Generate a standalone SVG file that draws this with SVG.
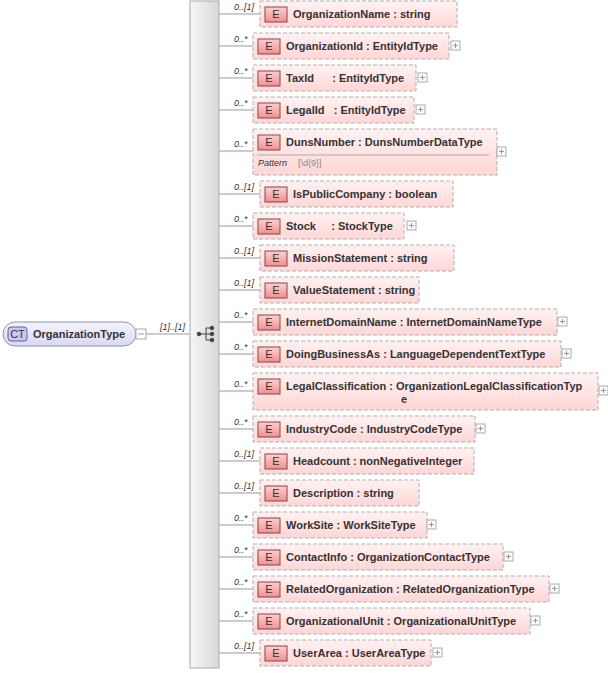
<svg xmlns="http://www.w3.org/2000/svg" width="608" height="673" viewBox="0 0 608 673">
<defs>
<linearGradient id="eg" x1="0" y1="0" x2="0" y2="1"><stop offset="0" stop-color="#fff2f2"/><stop offset="1" stop-color="#ffd6d6"/></linearGradient>
<linearGradient id="bg" x1="0" y1="0" x2="0" y2="1"><stop offset="0" stop-color="#fbd0d0"/><stop offset="1" stop-color="#f09090"/></linearGradient>
<linearGradient id="sg" x1="0" y1="0" x2="1" y2="0"><stop offset="0" stop-color="#f6f6f6"/><stop offset="1" stop-color="#d8d8d8"/></linearGradient>
<linearGradient id="cg" x1="0" y1="0" x2="0" y2="1"><stop offset="0" stop-color="#f4f4ff"/><stop offset="1" stop-color="#d8d8f4"/></linearGradient>
</defs>
<style>
.box{fill:url(#eg);stroke:#b0b0b0;stroke-dasharray:4 2;stroke-width:1}
.badge{fill:url(#bg);stroke:#904040;stroke-width:1}
.bt{font-family:"Liberation Sans",Arial,sans-serif;font-size:11px;fill:#333}
.t{font-family:"Liberation Sans",Arial,sans-serif;font-size:11px;font-weight:bold;fill:#333}
.m{font-family:"Liberation Sans",Arial,sans-serif;font-size:9px;font-style:italic;fill:#333}
.ln{stroke:#999;stroke-width:1;fill:none}
.pl{fill:#fff;stroke:#aaa;stroke-width:1}
.pt{stroke:#999;stroke-width:1}
</style>
<g id="connectors">
<line class="ln" x1="146" y1="334" x2="190" y2="334"/>
<line class="ln" x1="219" y1="14" x2="260" y2="14"/>
<line class="ln" x1="219" y1="46" x2="253" y2="46"/>
<line class="ln" x1="219" y1="78" x2="253" y2="78"/>
<line class="ln" x1="219" y1="110" x2="253" y2="110"/>
<line class="ln" x1="219" y1="151" x2="253" y2="151"/>
<line class="ln" x1="219" y1="194" x2="260" y2="194"/>
<line class="ln" x1="219" y1="226" x2="253" y2="226"/>
<line class="ln" x1="219" y1="258" x2="260" y2="258"/>
<line class="ln" x1="219" y1="290" x2="260" y2="290"/>
<line class="ln" x1="219" y1="322" x2="253" y2="322"/>
<line class="ln" x1="219" y1="354" x2="253" y2="354"/>
<line class="ln" x1="219" y1="391" x2="253" y2="391"/>
<line class="ln" x1="219" y1="429" x2="253" y2="429"/>
<line class="ln" x1="219" y1="461" x2="260" y2="461"/>
<line class="ln" x1="219" y1="493" x2="260" y2="493"/>
<line class="ln" x1="219" y1="525" x2="253" y2="525"/>
<line class="ln" x1="219" y1="557" x2="253" y2="557"/>
<line class="ln" x1="219" y1="589" x2="253" y2="589"/>
<line class="ln" x1="219" y1="621" x2="253" y2="621"/>
<line class="ln" x1="219" y1="653" x2="260" y2="653"/>
<text class="m" x="160" y="330">[1]..[1]</text>
<text class="m" x="234" y="10">0..[1]</text>
<text class="m" x="234" y="42">0..*</text>
<text class="m" x="234" y="74">0..*</text>
<text class="m" x="234" y="106">0..*</text>
<text class="m" x="234" y="147">0..*</text>
<text class="m" x="234" y="190">0..[1]</text>
<text class="m" x="234" y="222">0..*</text>
<text class="m" x="234" y="254">0..[1]</text>
<text class="m" x="234" y="286">0..[1]</text>
<text class="m" x="234" y="318">0..*</text>
<text class="m" x="234" y="350">0..*</text>
<text class="m" x="234" y="387">0..*</text>
<text class="m" x="234" y="425">0..*</text>
<text class="m" x="234" y="457">0..[1]</text>
<text class="m" x="234" y="489">0..[1]</text>
<text class="m" x="234" y="521">0..*</text>
<text class="m" x="234" y="553">0..*</text>
<text class="m" x="234" y="585">0..*</text>
<text class="m" x="234" y="617">0..*</text>
<text class="m" x="234" y="649">0..[1]</text>
</g>
<g id="OrganizationType">
<rect x="3" y="322" width="133" height="24" rx="12" fill="url(#cg)" stroke="#9090b8"/>
<rect x="8" y="327" width="19" height="14" rx="3" fill="#c8c8f0" stroke="#6060a0"/>
<text class="bt" x="17.5" y="338" text-anchor="middle">CT</text>
<text class="t" x="33" y="338">OrganizationType</text>
<rect class="pl" x="136" y="329" width="10" height="10"/>
<line class="pt" x1="138" y1="334" x2="144" y2="334"/>
</g>
<g id="sequence">
<rect x="190" y="1" width="29" height="667" fill="url(#sg)" stroke="#aaa"/>
<g stroke="#444" fill="#444">
<line x1="199" y1="334" x2="206" y2="334"/>
<line x1="206" y1="328" x2="206" y2="340"/>
<line x1="206" y1="328" x2="212" y2="328"/><line x1="206" y1="334" x2="212" y2="334"/><line x1="206" y1="340" x2="212" y2="340"/>
<circle cx="199" cy="334" r="1.8"/><circle cx="212" cy="328" r="1.8"/><circle cx="212" cy="334" r="1.8"/><circle cx="212" cy="340" r="1.8"/>
</g>
</g>
<g id="OrganizationName"><rect class="box" x="260" y="1" width="197" height="26"/><rect class="badge" x="265" y="7" width="22" height="15"/><text class="bt" x="276" y="18" text-anchor="middle">E</text><text class="t" x="293" y="18">OrganizationName : string</text></g>
<g id="OrganizationId"><rect class="box" x="253" y="33" width="196" height="26"/><rect class="badge" x="258" y="39" width="22" height="15"/><text class="bt" x="269" y="50" text-anchor="middle">E</text><text class="t" x="286" y="50">OrganizationId : EntityIdType</text><rect class="pl" x="451" y="41" width="9" height="9"/><line class="pt" x1="453" y1="45.5" x2="458" y2="45.5"/><line class="pt" x1="455.5" y1="43" x2="455.5" y2="48"/></g>
<g id="TaxId"><rect class="box" x="253" y="65" width="163" height="26"/><rect class="badge" x="258" y="71" width="22" height="15"/><text class="bt" x="269" y="82" text-anchor="middle">E</text><text class="t" x="286" y="82" xml:space="preserve">TaxId      : EntityIdType</text><rect class="pl" x="418" y="73" width="9" height="9"/><line class="pt" x1="420" y1="77.5" x2="425" y2="77.5"/><line class="pt" x1="422.5" y1="75" x2="422.5" y2="80"/></g>
<g id="LegalId"><rect class="box" x="253" y="97" width="161" height="26"/><rect class="badge" x="258" y="103" width="22" height="15"/><text class="bt" x="269" y="114" text-anchor="middle">E</text><text class="t" x="286" y="114" xml:space="preserve">LegalId   : EntityIdType</text><rect class="pl" x="416" y="105" width="9" height="9"/><line class="pt" x1="418" y1="109.5" x2="423" y2="109.5"/><line class="pt" x1="420.5" y1="107" x2="420.5" y2="112"/></g>
<g id="DunsNumber"><rect class="box" x="253" y="129" width="244" height="46"/><rect class="badge" x="258" y="135" width="22" height="15"/><text class="bt" x="269" y="146" text-anchor="middle">E</text><text class="t" x="286" y="146">DunsNumber : DunsNumberDataType</text><line x1="257" y1="155" x2="489" y2="155" stroke="#aaa"/><text class="bt" x="258" y="166" font-size="9" font-style="italic" style="font-size:9px">Pattern</text><text class="bt" x="298" y="166" style="font-size:9px;fill:#888">[\d{9}]</text><rect class="pl" x="497" y="147" width="9" height="9"/><line class="pt" x1="499" y1="151.5" x2="504" y2="151.5"/><line class="pt" x1="501.5" y1="149" x2="501.5" y2="154"/></g>
<g id="IsPublicCompany"><rect class="box" x="260" y="181" width="193" height="26"/><rect class="badge" x="265" y="187" width="22" height="15"/><text class="bt" x="276" y="198" text-anchor="middle">E</text><text class="t" x="293" y="198">IsPublicCompany : boolean</text></g>
<g id="Stock"><rect class="box" x="253" y="213" width="151" height="26"/><rect class="badge" x="258" y="219" width="22" height="15"/><text class="bt" x="269" y="230" text-anchor="middle">E</text><text class="t" x="286" y="230" xml:space="preserve">Stock     : StockType</text><rect class="pl" x="407" y="221" width="9" height="9"/><line class="pt" x1="409" y1="225.5" x2="414" y2="225.5"/><line class="pt" x1="411.5" y1="223" x2="411.5" y2="228"/></g>
<g id="MissionStatement"><rect class="box" x="260" y="245" width="194" height="26"/><rect class="badge" x="265" y="251" width="22" height="15"/><text class="bt" x="276" y="262" text-anchor="middle">E</text><text class="t" x="293" y="262">MissionStatement : string</text></g>
<g id="ValueStatement"><rect class="box" x="260" y="277" width="159" height="26"/><rect class="badge" x="265" y="283" width="22" height="15"/><text class="bt" x="276" y="294" text-anchor="middle">E</text><text class="t" x="293" y="294">ValueStatement : string</text></g>
<g id="InternetDomainName"><rect class="box" x="253" y="309" width="304" height="26"/><rect class="badge" x="258" y="315" width="22" height="15"/><text class="bt" x="269" y="326" text-anchor="middle">E</text><text class="t" x="286" y="326">InternetDomainName : InternetDomainNameType</text><rect class="pl" x="558" y="317" width="9" height="9"/><line class="pt" x1="560" y1="321.5" x2="565" y2="321.5"/><line class="pt" x1="562.5" y1="319" x2="562.5" y2="324"/></g>
<g id="DoingBusinessAs"><rect class="box" x="253" y="341" width="308" height="26"/><rect class="badge" x="258" y="347" width="22" height="15"/><text class="bt" x="269" y="358" text-anchor="middle">E</text><text class="t" x="286" y="358">DoingBusinessAs : LanguageDependentTextType</text><rect class="pl" x="562" y="349" width="9" height="9"/><line class="pt" x1="564" y1="353.5" x2="569" y2="353.5"/><line class="pt" x1="566.5" y1="351" x2="566.5" y2="356"/></g>
<g id="LegalClassification"><rect class="box" x="253" y="373" width="345" height="37"/><rect class="badge" x="258" y="379" width="22" height="15"/><text class="bt" x="269" y="390" text-anchor="middle">E</text><text class="t" x="286" y="390">LegalClassification : OrganizationLegalClassificationTyp</text><text class="t" x="401" y="403">e</text><rect class="pl" x="599" y="386" width="9" height="9"/><line class="pt" x1="601" y1="390.5" x2="606" y2="390.5"/><line class="pt" x1="603.5" y1="388" x2="603.5" y2="393"/></g>
<g id="IndustryCode"><rect class="box" x="253" y="416" width="222" height="26"/><rect class="badge" x="258" y="422" width="22" height="15"/><text class="bt" x="269" y="433" text-anchor="middle">E</text><text class="t" x="286" y="433">IndustryCode : IndustryCodeType</text><rect class="pl" x="476" y="424" width="9" height="9"/><line class="pt" x1="478" y1="428.5" x2="483" y2="428.5"/><line class="pt" x1="480.5" y1="426" x2="480.5" y2="431"/></g>
<g id="Headcount"><rect class="box" x="260" y="448" width="214" height="26"/><rect class="badge" x="265" y="454" width="22" height="15"/><text class="bt" x="276" y="465" text-anchor="middle">E</text><text class="t" x="293" y="465">Headcount : nonNegativeInteger</text></g>
<g id="Description"><rect class="box" x="260" y="480" width="159" height="26"/><rect class="badge" x="265" y="486" width="22" height="15"/><text class="bt" x="276" y="497" text-anchor="middle">E</text><text class="t" x="293" y="497">Description : string</text></g>
<g id="WorkSite"><rect class="box" x="253" y="512" width="174" height="26"/><rect class="badge" x="258" y="518" width="22" height="15"/><text class="bt" x="269" y="529" text-anchor="middle">E</text><text class="t" x="286" y="529">WorkSite : WorkSiteType</text><rect class="pl" x="427" y="520" width="9" height="9"/><line class="pt" x1="429" y1="524.5" x2="434" y2="524.5"/><line class="pt" x1="431.5" y1="522" x2="431.5" y2="527"/></g>
<g id="ContactInfo"><rect class="box" x="253" y="544" width="250" height="26"/><rect class="badge" x="258" y="550" width="22" height="15"/><text class="bt" x="269" y="561" text-anchor="middle">E</text><text class="t" x="286" y="561">ContactInfo : OrganizationContactType</text><rect class="pl" x="504" y="552" width="9" height="9"/><line class="pt" x1="506" y1="556.5" x2="511" y2="556.5"/><line class="pt" x1="508.5" y1="554" x2="508.5" y2="559"/></g>
<g id="RelatedOrganization"><rect class="box" x="253" y="576" width="296" height="26"/><rect class="badge" x="258" y="582" width="22" height="15"/><text class="bt" x="269" y="593" text-anchor="middle">E</text><text class="t" x="286" y="593">RelatedOrganization : RelatedOrganizationType</text><rect class="pl" x="550" y="584" width="9" height="9"/><line class="pt" x1="552" y1="588.5" x2="557" y2="588.5"/><line class="pt" x1="554.5" y1="586" x2="554.5" y2="591"/></g>
<g id="OrganizationalUnit"><rect class="box" x="253" y="608" width="277" height="26"/><rect class="badge" x="258" y="614" width="22" height="15"/><text class="bt" x="269" y="625" text-anchor="middle">E</text><text class="t" x="286" y="625">OrganizationalUnit : OrganizationalUnitType</text><rect class="pl" x="531" y="616" width="9" height="9"/><line class="pt" x1="533" y1="620.5" x2="538" y2="620.5"/><line class="pt" x1="535.5" y1="618" x2="535.5" y2="623"/></g>
<g id="UserArea"><rect class="box" x="260" y="640" width="171" height="26"/><rect class="badge" x="265" y="646" width="22" height="15"/><text class="bt" x="276" y="657" text-anchor="middle">E</text><text class="t" x="293" y="657">UserArea : UserAreaType</text><rect class="pl" x="433" y="648" width="9" height="9"/><line class="pt" x1="435" y1="652.5" x2="440" y2="652.5"/><line class="pt" x1="437.5" y1="650" x2="437.5" y2="655"/></g>
</svg>
